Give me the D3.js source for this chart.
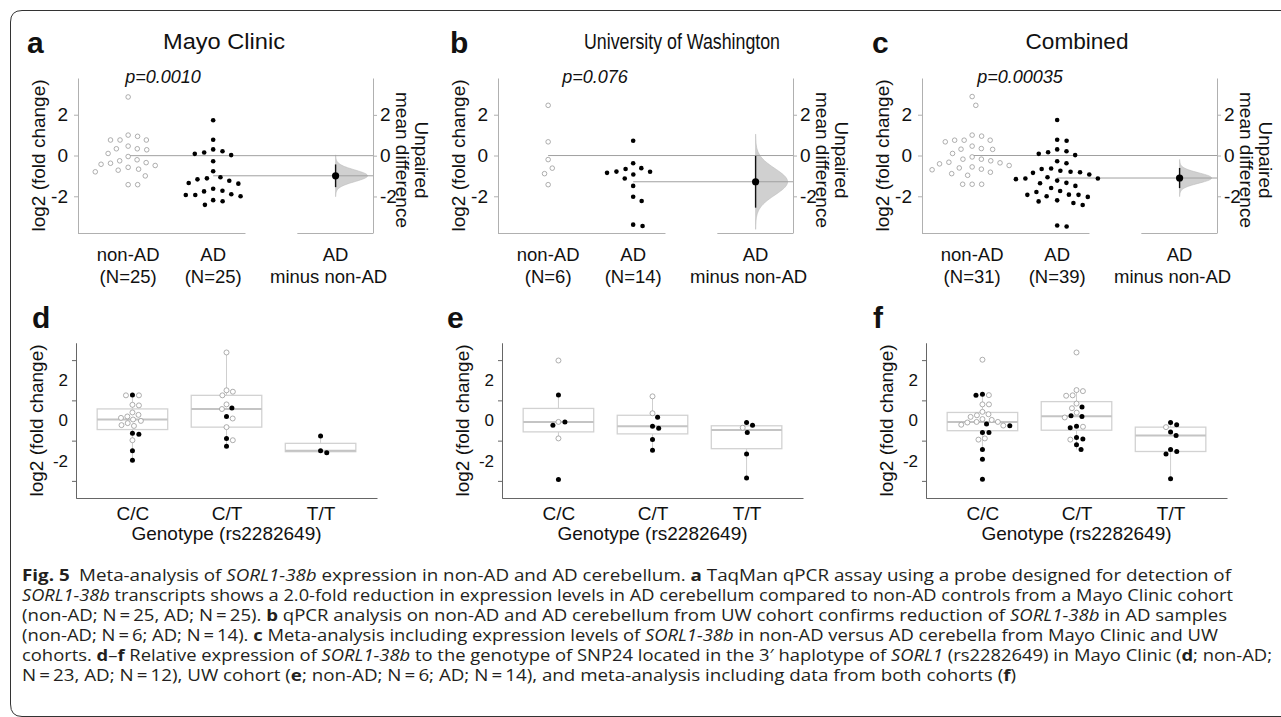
<!DOCTYPE html>
<html>
<head>
<meta charset="utf-8">
<script src="https://cdn.jsdelivr.net/npm/d3@7"></script>
<style>
  body { margin: 0; background: #fff; }
  svg { display: block; }
</style>
</head>
<body>
<script>
const W = 1281;
const H = 717;
const FONT = "'Liberation Sans', Arial, sans-serif";
const CAP_FONT = "'Open Sans', 'Noto Sans', sans-serif";

// ---- data (log2 fold change) ----
const cohortTitles = ["Mayo Clinic", "University of Washington", "Combined"];
const pValues = ["p=0.0010", "p=0.076", "p=0.00035"];
const groupNames = ["non-AD", "AD"];
const deltaLabel = ["AD", "minus non-AD"];
const genotypes = ["C/C", "C/T", "T/T"];
const labelTicks = [-2, 0, 2];
const minorTicks = [-3, -1, 1, 3];

const mayoNonAD = [2.87, 1.0, 0.76, 0.76, 0.76, 0.94, 0.28, 0.33, 0.33, 0.46, -0.05, 0.1, -0.26,
  -0.38, -0.21, -0.43, -0.35, -0.49, -0.58, -0.67, -0.72, -0.8, -1.0, -1.43, -1.43];
const mayoAD = [1.73, 0.77, 0.21, 0.08, 0.15, 0.3, 0.02, -0.28, -0.77, -1.07, -1.17, -1.12, -1.24,
  -1.35, -1.38, -1.63, -1.76, -1.73, -2.0, -1.9, -1.94, -1.94, -2.19, -2.24, -2.42];
const uwNonAD = [2.46, 0.67, -0.2, -0.62, -0.89, -1.43];
const uwAD = [0.72, -0.38, -0.62, -0.85, -0.79, -0.8, -0.66, -0.93, -1.13, -1.49, -2.02, -2.23, -3.39, -3.46];
const combNonAD = [2.89, 2.46, 0.95, 1.0, 0.67, 0.75, 0.75, 0.75, 0.46, 0.3, 0.34, 0.31, 0.1, -0.18,
  -0.07, -0.18, -0.41, -0.36, -0.26, -0.56, -0.33, -0.49, -0.67, -0.61, -0.7, -0.82, -0.89, -0.97,
  -1.41, -1.41, -1.41];
const combAD = [1.74, 0.77, 0.72, 0.3, 0.16, 0.21, 0.02, 0.08, -0.38, -0.28, -0.64, -0.8, -0.66, -0.85,
  -0.82, -0.75, -0.93, -1.13, -1.07, -1.23, -1.13, -1.16, -1.36, -1.34, -1.59, -1.49, -1.79, -1.74,
  -2.0, -1.92, -1.93, -1.93, -2.03, -2.2, -2.25, -2.33, -2.43, -3.43, -3.48];

// genotype groups, in the order of `genotypes`
const mayoGenoNonAD = [
  [1.25, 1.25, 0.78, 0.75, 0.4, 0.28, 0.2, 0.13, 0.05, -0.02, -0.13, -0.27, -0.23, -0.98],
  [3.38, 1.5, 1.43, 1.25, 0.8, 0.57, 0.1, -0.33, -0.98],
  []
];
const mayoGenoAD = [
  [1.27, -0.68, -0.63, -1.5, -1.98],
  [0.62, 0.2, -0.9, -1.28],
  [-0.77, -1.5, -1.6]
];
const uwGenoNonAD = [[2.98, -0.07, -0.89], [1.2, 0.36], [-0.36]];
const uwGenoAD = [
  [1.27, -0.08, -0.24, -2.93],
  [0.16, -0.29, -0.39, -0.94, -1.48],
  [-0.1, -0.23, -0.59, -1.67, -2.86]
];
const combGenoNonAD = [
  [3.02, 1.26, 0.8, 0.8, 0.43, 0.31, 0.26, 0.18, 0.07, 0.03, -0.07, -0.07, -0.1, -0.21, -0.25, -0.95, -0.89],
  [3.38, 1.46, 1.51, 1.23, 1.25, 0.39, 0.61, 0.84, 0.15, -0.31, -0.95],
  [-0.33]
];
const combGenoAD = [
  [1.26, 1.3, -0.18, -0.26, -0.59, -0.59, -1.44, -1.93, -2.92],
  [0.67, 0.2, 0.23, -0.28, -0.36, -0.92, -0.85, -1.21, -1.44],
  [-0.21, -0.1, -0.57, -0.74, -1.44, -1.67, -1.54, -2.89]
];

const captionLines = [
  [["Fig. 5", "b"], ["\u2002Meta-analysis of ", ""], ["SORL1-38b", "i"], [" expression in non-AD and AD cerebellum. ", ""], ["a", "b"], [" TaqMan qPCR assay using a probe designed for detection of", ""]],
  [["SORL1-38b", "i"], [" transcripts shows a 2.0-fold reduction in expression levels in AD cerebellum compared to non-AD controls from a Mayo Clinic cohort", ""]],
  [["(non-AD; N\u2009=\u200925, AD; N\u2009=\u200925). ", ""], ["b", "b"], [" qPCR analysis on non-AD and AD cerebellum from UW cohort confirms reduction of ", ""], ["SORL1-38b", "i"], [" in AD samples", ""]],
  [["(non-AD; N\u2009=\u20096; AD; N\u2009=\u200914). ", ""], ["c", "b"], [" Meta-analysis including expression levels of ", ""], ["SORL1-38b", "i"], [" in non-AD versus AD cerebella from Mayo Clinic and UW", ""]],
  [["cohorts. ", ""], ["d", "b"], ["\u2013", ""], ["f", "b"], [" Relative expression of ", ""], ["SORL1-38b", "i"], [" to the genotype of SNP24 located in the 3\u2032 haplotype of ", ""], ["SORL1", "i"], [" (rs2282649) in Mayo Clinic (", ""], ["d", "b"], ["; non-AD;", ""]],
  [["N\u2009=\u200923, AD; N\u2009=\u200912), UW cohort (", ""], ["e", "b"], ["; non-AD; N\u2009=\u20096; AD; N\u2009=\u200914), and meta-analysis including data from both cohorts (", ""], ["f", "b"], [")", ""]]
];

// ---- layout ----
const topLayout = [
  { letter: "a", lx: 27, x0: 78, tx: 224, tw: 122, px: 163 },
  { letter: "b", lx: 450, x0: 498, tx: 682, tw: 196, px: 595 },
  { letter: "c", lx: 872, x0: 922, tx: 1077, tw: 103, px: 1020 }
];
const topData = [[mayoNonAD, mayoAD], [uwNonAD, uwAD], [combNonAD, combAD]];

const botLayout = [
  { letter: "d", lx: 32, x0: 76 },
  { letter: "e", lx: 447, x0: 502 },
  { letter: "f", lx: 873, x0: 926 }
];
const botData = [[mayoGenoNonAD, mayoGenoAD], [uwGenoNonAD, uwGenoAD], [combGenoNonAD, combGenoAD]];

const captionEnds = [1231, 1233, 1227, 1218, 1272, 1016];

const svg = d3.select("body").append("svg").attr("width", W).attr("height", H);

// frame
svg.append("path")
  .attr("d", "M1281,10.5 H22 Q10.5,10.5 10.5,22 V704 Q10.5,716.5 22,716.5 H1281")
  .attr("fill", "none")
  .attr("stroke", "#333")
  .attr("stroke-width", 1);

// simple beeswarm: each point goes to the free slot closest to the centre
function swarm(points, cx, y, d) {
  const pts = points.map(p => Object.assign({}, p, { py: y(p.v) }))
    .sort((a, b) => a.py - b.py);
  const placed = [];
  pts.forEach(p => {
    const cands = [0];
    placed.forEach(q => {
      const dy = Math.abs(q.py - p.py);
      if (dy < d) {
        const dx = Math.sqrt(d * d - dy * dy);
        cands.push(q.dx + dx, q.dx - dx);
      }
    });
    cands.sort((a, b) => Math.abs(a) - Math.abs(b));
    for (const c of cands) {
      const ok = placed.every(q => (q.dx - c) ** 2 + (q.py - p.py) ** 2 >= d * d - 0.01);
      if (ok) { p.dx = c; break; }
    }
    placed.push(p);
  });
  pts.forEach(p => { p.px = cx + p.dx; });
  return pts;
}

function styleAxis(sel, color, fs) {
  sel.attr("font-family", FONT).attr("font-size", fs);
  sel.select(".domain").attr("stroke", color);
  sel.selectAll(".tick line").attr("stroke", color);
  sel.selectAll(".tick text").attr("fill", "#111");
}

function addText(g, x, y, txt, opts) {
  opts = opts || {};
  const t = g.append("text")
    .attr("x", x)
    .attr("y", y)
    .attr("font-family", FONT)
    .attr("font-size", opts.size || 18)
    .attr("text-anchor", opts.anchor || "middle")
    .attr("fill", "#111")
    .text(txt);
  if (opts.weight) t.attr("font-weight", opts.weight);
  if (opts.style) t.attr("font-style", opts.style);
  if (opts.transform) t.attr("transform", opts.transform).attr("x", 0).attr("y", 0);
  if (opts.width) t.attr("textLength", opts.width).attr("lengthAdjust", "spacingAndGlyphs");
  return t;
}

function drawTopPanel(L, data, i) {
  const [ctrl, test] = data;
  const g = svg.append("g");
  const yTop = 78, yBot = 233, pw = 295;
  const y = d3.scaleLinear().domain([-3.8, 3.8]).range([yBot, yTop]);
  const x = d3.scaleLinear().domain([-0.59, 2.88]).range([L.x0, L.x0 + pw]);

  const m0 = d3.mean(ctrl);
  const m1 = d3.mean(test);
  const diff = m1 - m0;
  const se = Math.sqrt(d3.variance(ctrl) / ctrl.length + d3.variance(test) / test.length);
  const yd = d3.scaleLinear().domain([-3.8 - m0, 3.8 - m0]).range([yBot, yTop]);
  const dx = x(2.44);

  addText(g, L.lx, 53, L.letter, { size: 30, weight: "bold", anchor: "start" });
  addText(g, L.tx, 49, cohortTitles[i], { size: 22, width: L.tw });
  addText(g, L.px, 83, pValues[i], { size: 18, style: "italic" });

  // bootstrap-like half violin of the mean difference
  const ts = d3.range(-3.6, 3.6001, 0.1);
  const shape = [[dx, yd(diff - 3.6 * se)]]
    .concat(ts.map(t => [dx + 32 * Math.exp(-t * t / 2), yd(diff + t * se)]))
    .concat([[dx, yd(diff + 3.6 * se)]]);
  g.append("path")
    .attr("d", d3.line()(shape) + "Z")
    .attr("fill", "#d0d0d0")
    .attr("stroke", "#bcbcbc")
    .attr("stroke-width", 0.6);

  // group mean lines
  g.append("line")
    .attr("x1", x(0)).attr("x2", L.x0 + pw)
    .attr("y1", y(m0)).attr("y2", y(m0))
    .attr("stroke", "#a0a0a0").attr("stroke-width", 1);
  g.append("line")
    .attr("x1", x(1)).attr("x2", L.x0 + pw)
    .attr("y1", y(m1)).attr("y2", y(m1))
    .attr("stroke", "#a0a0a0").attr("stroke-width", 1);

  // CI and mean difference
  g.append("line")
    .attr("x1", dx).attr("x2", dx)
    .attr("y1", yd(diff - 1.96 * se)).attr("y2", yd(diff + 1.96 * se))
    .attr("stroke", "#111").attr("stroke-width", 1.4);
  g.append("circle")
    .attr("cx", dx).attr("cy", yd(diff)).attr("r", 3.6)
    .attr("fill", "#000");

  // swarms
  const cPts = swarm(ctrl.map(v => ({ v })), x(0), y, 9.5);
  const tPts = swarm(test.map(v => ({ v })), x(1), y, 9.5);
  g.selectAll(".ctrl").data(cPts).enter().append("circle")
    .attr("class", "ctrl")
    .attr("cx", d => d.px).attr("cy", d => d.py).attr("r", 2.3)
    .attr("fill", "#fff").attr("stroke", "#999").attr("stroke-width", 0.8);
  g.selectAll(".test").data(tPts).enter().append("circle")
    .attr("class", "test")
    .attr("cx", d => d.px).attr("cy", d => d.py).attr("r", 2.3)
    .attr("fill", "#000");

  // axes
  const left = g.append("g").attr("transform", `translate(${L.x0},0)`)
    .call(d3.axisLeft(y).tickValues(labelTicks).tickSize(4).tickSizeOuter(0).tickPadding(6).tickFormat(d => String(d)));
  styleAxis(left, "#b0b0b0", 19);
  const right = g.append("g").attr("transform", `translate(${L.x0 + pw},0)`)
    .call(d3.axisRight(yd).tickValues(labelTicks).tickSize(4).tickSizeOuter(0).tickPadding(3).tickFormat(d => String(d)));
  styleAxis(right, "#b0b0b0", 19);

  [[-0.59, 1.38], [1.99, 2.88]].forEach(seg => {
    g.append("line")
      .attr("x1", x(seg[0])).attr("x2", x(seg[1]))
      .attr("y1", yBot + 0.5).attr("y2", yBot + 0.5)
      .attr("stroke", "#b0b0b0").attr("stroke-width", 1);
  });

  // labels
  addText(g, x(0), 261, groupNames[0], { size: 18.5 });
  addText(g, x(0), 283, `(N=${ctrl.length})`, { size: 18.5 });
  addText(g, x(1), 261, groupNames[1], { size: 18.5 });
  addText(g, x(1), 283, `(N=${test.length})`, { size: 18.5 });
  addText(g, dx, 261, deltaLabel[0], { size: 18.5 });
  addText(g, dx - 7, 283, deltaLabel[1], { size: 18.5 });

  addText(g, 0, 0, "log2 (fold change)", { size: 19, transform: `translate(${L.x0 - 33},${(yTop + yBot) / 2}) rotate(-90)` });
  addText(g, 0, 0, "mean difference", { size: 19, transform: `translate(${L.x0 + pw + 23},160) rotate(90)` });
  addText(g, 0, 0, "Unpaired", { size: 19, transform: `translate(${L.x0 + pw + 42},160) rotate(90)` });
}

function drawBotPanel(L, data) {
  const [ctrlG, testG] = data;
  const g = svg.append("g");
  const yTop = 343, yBot = 498, pw = 301;
  const y = d3.scaleLinear().domain([-3.85, 3.85]).range([yBot, yTop]);
  const x = d3.scalePoint().domain(genotypes).range([L.x0, L.x0 + pw]).padding(0.6);
  const bw = 0.75 * x.step();

  addText(g, L.lx, 328, L.letter, { size: 30, weight: "bold", anchor: "start" });

  genotypes.forEach((gt, k) => {
    const pts = ctrlG[k].map(v => ({ v, ad: false })).concat(testG[k].map(v => ({ v, ad: true })));
    const vals = pts.map(p => p.v).sort(d3.ascending);
    const q1 = d3.quantile(vals, 0.25);
    const med = d3.quantile(vals, 0.5);
    const q3 = d3.quantile(vals, 0.75);
    const iqr = q3 - q1;
    const lo = d3.min(vals.filter(v => v >= q1 - 1.5 * iqr));
    const hi = d3.max(vals.filter(v => v <= q3 + 1.5 * iqr));
    const cx = x(gt);

    g.append("line").attr("x1", cx).attr("x2", cx).attr("y1", y(q3)).attr("y2", y(hi))
      .attr("stroke", "#cfcfcf").attr("stroke-width", 1);
    g.append("line").attr("x1", cx).attr("x2", cx).attr("y1", y(q1)).attr("y2", y(lo))
      .attr("stroke", "#cfcfcf").attr("stroke-width", 1);
    g.append("rect")
      .attr("x", cx - bw / 2).attr("y", y(q3))
      .attr("width", bw).attr("height", y(q1) - y(q3))
      .attr("fill", "#fff").attr("stroke", "#d2d2d2").attr("stroke-width", 1.3);
    g.append("line").attr("x1", cx - bw / 2).attr("x2", cx + bw / 2).attr("y1", y(med)).attr("y2", y(med))
      .attr("stroke", "#c4c4c4").attr("stroke-width", 2);

    const sp = swarm(pts, cx, y, 6.5);
    g.selectAll(null).data(sp).enter().append("circle")
      .attr("cx", d => d.px).attr("cy", d => d.py).attr("r", 2.5)
      .attr("fill", d => d.ad ? "#000" : "#fff")
      .attr("stroke", d => d.ad ? "none" : "#999")
      .attr("stroke-width", 0.8);
  });

  const minor = g.append("g").attr("transform", `translate(${L.x0},0)`)
    .call(d3.axisLeft(y).tickValues(minorTicks).tickSize(4).tickSizeOuter(0).tickFormat(""));
  styleAxis(minor, "#666", 17);
  const labels = g.append("g").attr("transform", `translate(${L.x0},0)`)
    .call(d3.axisLeft(y).tickValues(labelTicks).tickSize(0).tickSizeOuter(0).tickPadding(8).tickFormat(d => String(d)));
  styleAxis(labels, "#666", 17);

  const xa = g.append("g").attr("transform", `translate(0,${yBot})`)
    .call(d3.axisBottom(x).tickSize(0).tickSizeOuter(0).tickPadding(9));
  styleAxis(xa, "#666", 19);

  addText(g, L.x0 + pw / 2, 540, "Genotype (rs2282649)", { size: 19 });
  addText(g, 0, 0, "log2 (fold change)", { size: 19, transform: `translate(${L.x0 - 33},${(yTop + yBot) / 2}) rotate(-90)` });
}

topLayout.forEach((L, i) => drawTopPanel(L, topData[i], i));
botLayout.forEach((L, i) => drawBotPanel(L, botData[i]));

// caption
const cap = svg.append("g");
captionLines.forEach((line, i) => {
  const t = cap.append("text")
    .attr("x", 22)
    .attr("y", 581 + i * 20)
    .attr("font-family", CAP_FONT)
    .attr("font-size", 16)
    .attr("fill", "#231f20")
    .attr("textLength", captionEnds[i] - 22)
    .attr("lengthAdjust", "spacingAndGlyphs");
  line.forEach(([s, st]) => {
    const ts = t.append("tspan").text(s);
    if (st === "b") ts.attr("font-weight", "bold");
    if (st === "i") ts.attr("font-style", "italic");
  });
});
</script>
</body>
</html>
